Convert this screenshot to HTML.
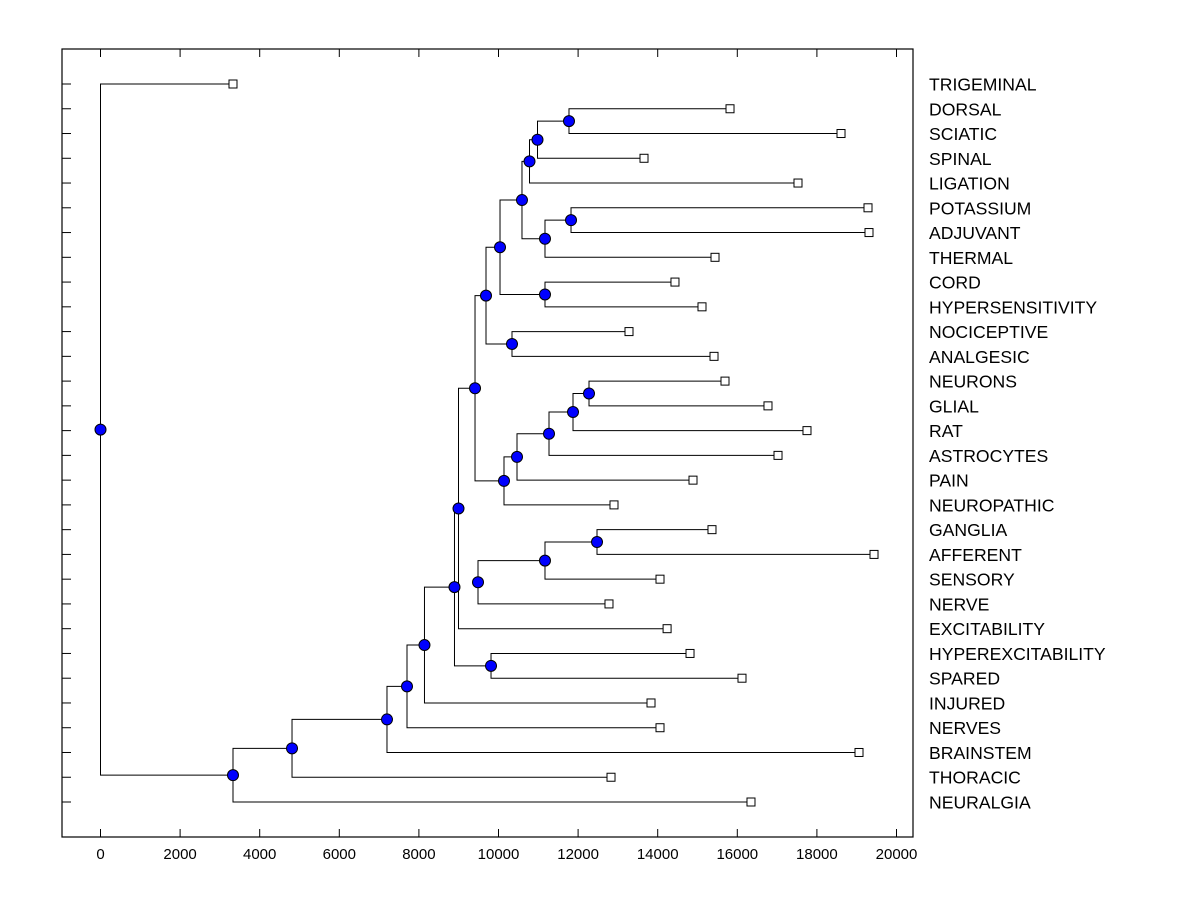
<!DOCTYPE html>
<html><head><meta charset="utf-8"><style>
html,body{margin:0;padding:0;background:#fff;}
svg{display:block;font-family:"Liberation Sans",Arial,sans-serif;}
</style></head><body>
<svg id="chart" width="1200" height="900" xmlns="http://www.w3.org/2000/svg"></svg>
<script>
const leafNames = ["TRIGEMINAL","DORSAL","SCIATIC","SPINAL","LIGATION","POTASSIUM","ADJUVANT","THERMAL","CORD","HYPERSENSITIVITY","NOCICEPTIVE","ANALGESIC","NEURONS","GLIAL","RAT","ASTROCYTES","PAIN","NEUROPATHIC","GANGLIA","AFFERENT","SENSORY","NERVE","EXCITABILITY","HYPEREXCITABILITY","SPARED","INJURED","NERVES","BRAINSTEM","THORACIC","NEURALGIA"];
const leafValues = [3329,15817,18606,13656,17525,19284,19309,15440,14434,15113,13279,15415,15691,16771,17751,17023,14887,12902,15364,19435,14058,12776,14236,14812,16118,13832,14058,19058,12827,16344];
// merges: [childA, childB, height]; leaf indices 0..29, merge k => 30+k
const mergeA = [1,30,31,5,33,32,8,35,10,37,12,40,41,42,43,18,45,46,39,48,23,49,51,52,53,54,55,0];
const mergeB = [2,3,4,6,7,34,9,36,11,38,13,14,15,16,17,19,20,21,44,22,24,50,25,26,27,28,29,56];
const mergeH = [11771,10980,10779,11822,11168,10590,11168,10038,10339,9686,12274,11872,11269,10465,10138,12475,11168,9485,9410,8995,9812,8894,8140,7701,7198,4812,3329,0];
const xTicks = [0,2000,4000,6000,8000,10000,12000,14000,16000,18000,20000];

const NS="http://www.w3.org/2000/svg";
const svg=document.getElementById('chart');
const L=62,R=913,T=49,B=837;
const xs=v=>100.5+v*0.0398;
const rowY=i=>84+i*(802-84)/29;
function mk(t,a){const e=document.createElementNS(NS,t);for(const k in a)e.setAttribute(k,a[k]);svg.appendChild(e);return e;}

const frame=mk('rect',{x:L,y:T,width:R-L,height:B-T,fill:'none',stroke:'#000','stroke-width':1.2});



xTicks.forEach(v=>{
  const x=xs(v);
  const t1=mk('line',{x1:x,y1:B,x2:x,y2:B-8,stroke:'#000'});
  
  
  const t2=mk('line',{x1:x,y1:T,x2:x,y2:T+8,stroke:'#000'});
  
  
  const lb=mk('text',{x:x,y:B+22,'text-anchor':'middle','font-size':15});
  lb.textContent=v;
  
  
});

const nodeX=[],nodeY=[];
leafNames.forEach((n,i)=>{nodeX[i]=xs(leafValues[i]);nodeY[i]=rowY(i);});
mergeH.forEach((h,k)=>{
  const a=mergeA[k],b=mergeB[k],id=30+k;
  nodeX[id]=xs(h);nodeY[id]=(nodeY[a]+nodeY[b])/2;
});
mergeH.forEach((h,k)=>{
  const a=mergeA[k],b=mergeB[k],x=xs(h);
  const p=mk('path',{d:`M${nodeX[a]},${nodeY[a]}H${x}V${nodeY[b]}H${nodeX[b]}`,fill:'none',stroke:'#000','stroke-width':1});
  
  
});
leafNames.forEach((n,i)=>{
  const y=rowY(i);
  const t=mk('line',{x1:L,y1:y,x2:L+9,y2:y,stroke:'#000'});
  
  
  const s=mk('rect',{x:nodeX[i]-4,y:y-4,width:8,height:8,fill:'#fff',stroke:'#000','stroke-width':1});
  
  
  const lb=mk('text',{x:929,y:y+6.5,'font-size':17.6});
  lb.textContent=n;
  
  
});
mergeH.forEach((h,k)=>{
  const c=mk('circle',{cx:nodeX[30+k],cy:nodeY[30+k],r:5.5,fill:'#0000ff',stroke:'#000','stroke-width':1});
  
  
});
</script>
</body></html>
